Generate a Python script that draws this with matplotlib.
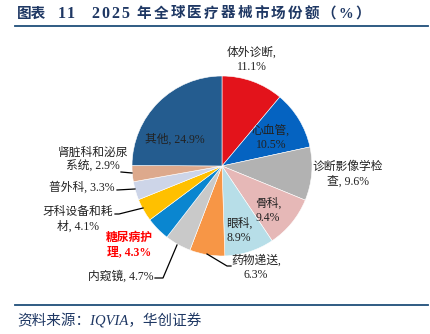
import matplotlib
matplotlib.use("Agg")
import matplotlib.pyplot as plt

plt.rcParams['font.family'] = ['Liberation Serif', 'Noto Sans CJK SC', 'DejaVu Sans']

# data
names = ['体外诊断', '心血管', '诊断影像学检查', '骨科', '眼科', '药物递送',
         '内窥镜', '糖尿病护理', '牙科设备和耗材', '普外科', '肾脏科和泌尿系统', '其他']
shares = [11.1, 10.5, 9.6, 9.4, 8.9, 6.3, 4.7, 4.3, 4.1, 3.3, 2.9, 24.9]
colors = ['#E3131B', '#0563C1', '#B2B2B2', '#E6B8B7', '#B7DEE8', '#F79646',
          '#C9C9C9', '#0A86D0', '#FFC000', '#CDD5E8', '#DDA98C', '#245C8F']
label_texts = ['体外诊断,\n11.1%', '心血管,\n10.5%', '诊断影像学检\n查, 9.6%',
               '骨科,\n9.4%', '眼科,\n8.9%', '药物递送,\n6.3%', '内窥镜, 4.7%',
               '糖尿病护\n理, 4.3%', '牙科设备和耗\n材, 4.1%', '普外科, 3.3%',
               '肾脏科和泌尿\n系统, 2.9%', '其他, 24.9%']

# label positions in pixels (center of text)
label_px = [(252, 60), (271, 138), (348, 174), (268, 211), (239, 231), (256, 268),
            (121, 276), (129, 245), (78, 219), (82, 187), (93, 160), (175, 140)]
# leader lines in pixels
leaders = {
    5: [(207, 254), (227, 266), (231, 266)],
    6: [(177, 245), (163, 278), (155, 278)],
    8: [(115, 214), (119, 214), (143, 208)],
    9: [(117, 190), (135, 189)],
    10: [(121, 172), (132, 173)],
}

W, H = 431, 334
cx, cy, R = 222, 166, 90

fig = plt.figure(figsize=(W / 100, H / 100), dpi=100)
ax = fig.add_axes([(cx - R) / W, (H - cy - R) / H, 2 * R / W, 2 * R / H])
ax.pie(shares, colors=colors, startangle=90, counterclock=False, radius=1,
       wedgeprops=dict(edgecolor='white', linewidth=0.4))
ax.set_xlim(-1, 1)
ax.set_ylim(-1, 1)
ax.set_aspect('auto')
ax.axis('off')


def to_data(p):
    return (p[0] - cx) / R, (cy - p[1]) / R


for i, (txt, p) in enumerate(zip(label_texts, label_px)):
    x, y = to_data(p)
    if i == 7:
        ax.text(x, y, txt, ha='center', va='center', fontsize=8.5, color='#FF0000',
                fontweight='bold', linespacing=1.25, clip_on=False)
    else:
        ax.text(x, y, txt, ha='center', va='center', fontsize=8.5, color='#222222',
                linespacing=1.25, clip_on=False)

for k, pts in leaders.items():
    xs = [to_data(p)[0] for p in pts]
    ys = [to_data(p)[1] for p in pts]
    ax.plot(xs, ys, color='black', linewidth=0.9, clip_on=False)

navy = '#1F3864'
ty = 1 - 14 / H
fig.text(17 / W, ty, '图表', fontsize=10.5, fontweight='bold', color=navy, ha='left', va='center')
for i, ch in enumerate('11'):
    fig.text((62 + 9 * i) / W, ty, ch, fontsize=11.5, fontweight='bold', color=navy,
             ha='center', va='center')
for i, ch in enumerate('2025'):
    fig.text((95 + 10 * i) / W, ty, ch, fontsize=11.5, fontweight='bold', color=navy,
             ha='center', va='center')
for i, ch in enumerate('年全球医疗器械市场份额（%）'):
    fig.text((144 + 16.8 * i) / W, ty, ch, fontsize=10.5, fontweight='bold', color=navy,
             ha='center', va='center')
fig.add_artist(plt.Line2D([15 / W, 428 / W], [1 - 25.5 / H, 1 - 25.5 / H],
                          color='#1F4E79', linewidth=1.3))
fig.add_artist(plt.Line2D([15 / W, 428 / W], [1 - 305 / H, 1 - 305 / H],
                          color='#1F4E79', linewidth=1.3))
fig.text(17 / W, 1 - 321 / H, '资料来源：IQVIA，华创证券', fontsize=10.5, style='italic',
         color=navy, ha='left', va='center')

fig.savefig('out.png', dpi=100)
